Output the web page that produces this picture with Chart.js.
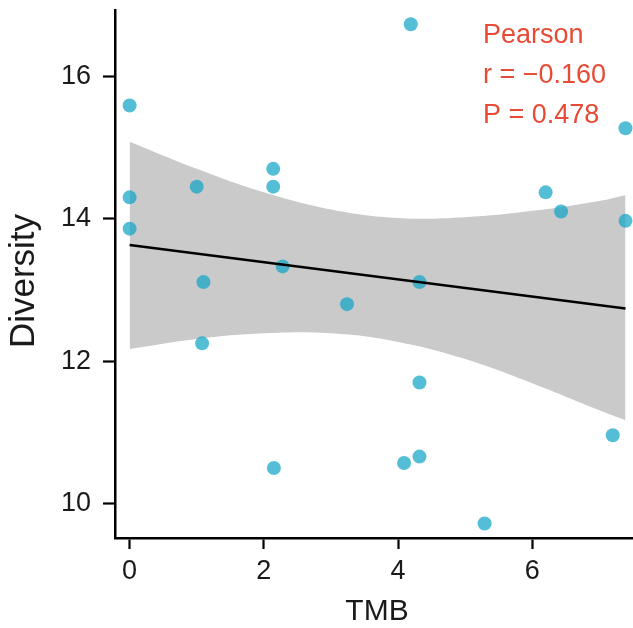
<!DOCTYPE html>
<html>
<head>
<meta charset="utf-8">
<script src="https://cdn.jsdelivr.net/npm/chart.js@4/dist/chart.umd.min.js"></script>
<style>
html,body{margin:0;padding:0;background:#fff;}
#wrap{width:633px;height:628px;}
</style>
</head>
<body>
<div id="wrap"><canvas id="c" width="633" height="628"></canvas></div>
<script>
// ---- data ----
const tmb = [0,0,0,1.00,1.08,1.10,2.14,2.14,2.15,2.28,3.24,4.09,4.19,4.32,4.32,4.32,5.29,6.20,6.43,7.20,7.39,7.39];
const diversity = [15.59,14.30,13.86,14.45,12.25,13.11,14.70,14.45,10.50,13.33,12.80,10.57,16.73,13.11,11.70,10.66,9.72,14.37,14.10,10.96,15.27,13.97];
const fitX = [0,7.39];
const fitY = [13.63,12.74];
const bandX = [0,1,2,3,4,5,6,7,7.39];
const bandUpper = [15.08,14.70,14.37,14.13,14.01,14.02,14.11,14.25,14.33];
const bandLower = [12.17,12.31,12.39,12.39,12.27,12.03,11.69,11.31,11.17];
const xTicks = [0,2,4,6];
const yTicks = [10,12,14,16];
const xTitle = "TMB";
const yTitle = "Diversity";
const statLines = ["Pearson","r = \u22120.160","P = 0.478"];

const FONT = "'Liberation Sans', Arial, Helvetica, sans-serif";

const pts = tmb.map((x,i)=>({x:x,y:diversity[i]}));
const fitPts = fitX.map((x,i)=>({x:x,y:fitY[i]}));
const upPts = bandX.map((x,i)=>({x:x,y:bandUpper[i]}));
const loPts = bandX.map((x,i)=>({x:x,y:bandLower[i]}));

const textPlugin = {
  id:'texts',
  afterDraw(chart){
    const ctx = chart.ctx;
    ctx.save();
    ctx.fillStyle = '#1a1a1a';
    ctx.font = "30px " + FONT;
    ctx.textAlign = 'center';
    ctx.textBaseline = 'alphabetic';
    ctx.fillText(xTitle, 377, 620);
    ctx.save();
    ctx.translate(34, 281);
    ctx.rotate(-Math.PI/2);
    ctx.font = "35px " + FONT;
    ctx.textAlign = 'center';
    ctx.fillText(yTitle, 0, 0);
    ctx.restore();
    ctx.fillStyle = '#e64b35';
    ctx.font = "27px " + FONT;
    ctx.textAlign = 'left';
    ctx.fillText(statLines[0], 483, 43);
    ctx.fillText(statLines[1], 483, 83);
    ctx.fillText(statLines[2], 483, 123);
    ctx.restore();
  }
};

function noPad(s){ s.paddingTop = 0; s.paddingBottom = 0; s.paddingLeft = 0; s.paddingRight = 0; }

new Chart(document.getElementById('c'), {
  type:'scatter',
  data:{
    datasets:[
      {type:'line', data:fitPts, borderColor:'#000', borderWidth:2.5, pointRadius:0, fill:false, order:0},
      {type:'scatter', data:pts, backgroundColor:'rgba(20,165,200,0.72)', borderWidth:0, pointRadius:7, pointHoverRadius:7, order:1},
      {type:'line', data:loPts, borderWidth:0, borderColor:'rgba(0,0,0,0)', pointRadius:0, fill:false, tension:0.4, order:2},
      {type:'line', data:upPts, borderWidth:0, borderColor:'rgba(0,0,0,0)', pointRadius:0, fill:'-1', backgroundColor:'#cacaca', tension:0.4, order:3}
    ]
  },
  options:{
    responsive:false,
    animation:false,
    devicePixelRatio:1,
    layout:{autoPadding:false, padding:{top:10,right:0,left:0,bottom:0}},
    plugins:{legend:{display:false}, tooltip:{enabled:false}},
    scales:{
      x:{
        type:'linear', min:-0.218, max:7.502,
        afterBuildTicks(s){ s.ticks = xTicks.map(v=>({value:v})); },
        afterFit(s){ s.height = 90; noPad(s); },
        grid:{drawOnChartArea:false, drawTicks:true, tickLength:11, tickColor:'#000', tickWidth:2.2},
        border:{display:true, color:'#000', width:2.5},
        ticks:{color:'#1a1a1a', font:{family:FONT, size:27}, padding:6, maxRotation:0}
      },
      y:{
        type:'linear', min:9.517, max:16.93,
        afterBuildTicks(s){ s.ticks = yTicks.map(v=>({value:v})); },
        afterFit(s){ s.width = 115; noPad(s); },
        grid:{drawOnChartArea:false, drawTicks:true, tickLength:12, tickColor:'#000', tickWidth:2.2},
        border:{display:true, color:'#000', width:2.5},
        ticks:{color:'#1a1a1a', font:{family:FONT, size:27}, padding:12}
      }
    }
  },
  plugins:[textPlugin]
});
</script>
</body>
</html>
